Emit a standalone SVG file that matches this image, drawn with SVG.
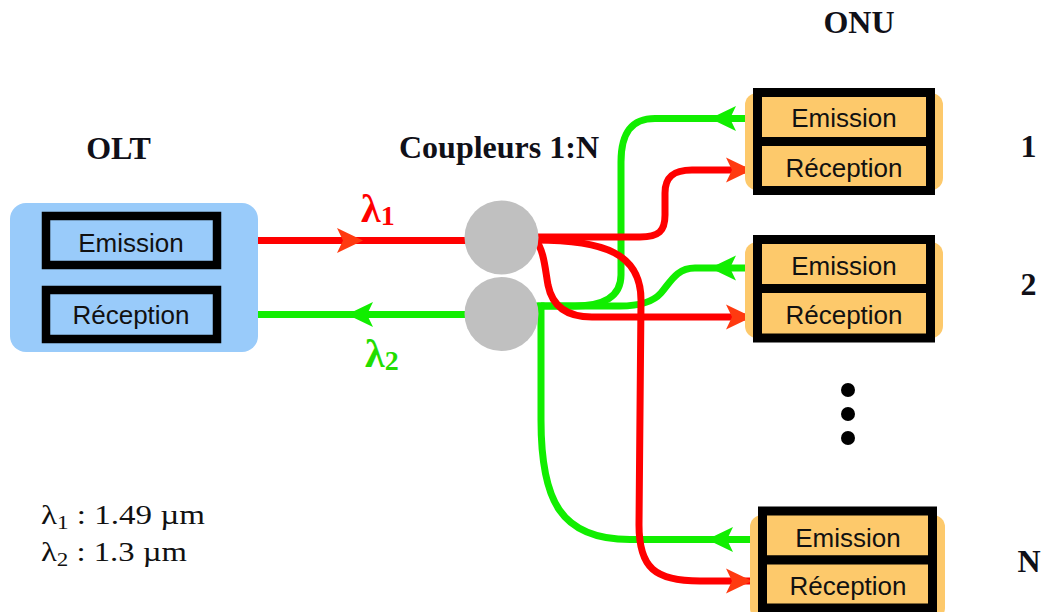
<svg xmlns="http://www.w3.org/2000/svg" width="1043" height="612" viewBox="0 0 1043 612">
<defs>
<path id="arrR" d="M0,0 L-26,-12.5 L-20,0 L-26,12.5 Z"/>
<path id="arrL" d="M0,0 L26,-12.5 L20,0 L26,12.5 Z"/>
</defs>
<style>
.title{font-family:"Liberation Serif","Times New Roman",serif;font-weight:bold;font-size:32px;fill:#101018;text-anchor:middle}
.lbl{font-family:"Liberation Sans",Arial,sans-serif;font-size:26px;fill:#111111;text-anchor:middle}
.lam{font-family:"Liberation Serif","Times New Roman",serif;font-weight:bold}
.legend{font-family:"Liberation Serif","Times New Roman",serif;font-size:27px;fill:#111111}
.box{stroke:#000;stroke-width:9}
.blue{fill:#99cbfa}
.orange{fill:#fdc96b}
.red{fill:none;stroke:#ff0000;stroke-width:7}
.green{fill:none;stroke:#11ee00;stroke-width:7}
.ar{fill:#ff3a10}
.ag{fill:#11ee00}
</style>
<rect width="1043" height="612" fill="#ffffff"/>

<g id="connectors">
<path class="green" d="M753,118.5 H655 C631,118.5 621,133 621,162 V275 C621,297 603,306 575,306 H530"/>
<path class="green" d="M753,268 H695 C676,268 670,283 661,293 C653,302 641,306 620,306 H541"/>
<path class="green" d="M541,302.5 V420 C541,500 560,539.5 630,539.5 H758"/>
<path class="green" d="M221,314.5 H470"/>
<path class="red" d="M221,240.5 H470"/>
<path class="red" d="M530,237 H640 C659,237 665,231 665,215 V193 C665,177 673,170 692,170 H753"/>
<path class="red" d="M535,239 C544,250 545,268 548,285 C552,305 566,317 592,317 H753"/>
<path class="red" d="M535,240 C605,240 641,254 641,300 L639,525 C639,568 655,581 700,581 H758"/>
<use href="#arrR" x="363" y="240.5" class="ar"/>
<use href="#arrL" x="347" y="314.5" class="ag"/>
<use href="#arrL" x="710" y="118.5" class="ag"/>
<use href="#arrL" x="710" y="268" class="ag"/>
<use href="#arrL" x="707" y="539.5" class="ag"/>
<use href="#arrR" x="752" y="170" class="ar"/>
<use href="#arrR" x="752" y="317" class="ar"/>
<use href="#arrR" x="752" y="581" class="ar"/>
</g>

<g id="olt">
<text class="title" x="118.5" y="159">OLT</text>
<rect class="blue" x="10" y="203" width="248" height="149" rx="16"/>
<rect class="box blue" x="46" y="216" width="171" height="49" style="stroke-width:8.5"/>
<text class="lbl" x="131" y="251.5">Emission</text>
<rect class="box blue" x="46" y="290" width="171" height="49" style="stroke-width:8.5"/>
<text class="lbl" x="131" y="324">Réception</text>
</g>

<g id="coupleurs">
<text class="title" x="499" y="157.5">Coupleurs 1:N</text>
<circle cx="501.5" cy="237.5" r="37" fill="#c0c0c0"/>
<circle cx="501.5" cy="314" r="37" fill="#c0c0c0"/>
</g>

<g id="lambda1">
<text class="lam" x="361" y="222" font-size="40" fill="#ff0000">λ<tspan font-size="28" dy="3">1</tspan></text>
</g>
<g id="lambda2">
<text class="lam" x="365" y="367" font-size="40" fill="#22dd00">λ<tspan font-size="28" dy="3">2</tspan></text>
</g>

<text class="title" x="859" y="33">ONU</text>

<g id="onu1">
<rect class="orange" x="745" y="93" width="198" height="97" rx="12"/>
<rect class="box orange" x="757.5" y="92.5" width="173" height="49"/>
<rect class="box orange" x="757.5" y="141.5" width="173" height="49"/>
<text class="lbl" x="844" y="126.5">Emission</text>
<text class="lbl" x="844" y="176.5">Réception</text>
<text class="title" x="1028.5" y="157">1</text>
</g>

<g id="onu2">
<rect class="orange" x="745" y="242" width="198" height="96" rx="12"/>
<rect class="box orange" x="757.5" y="239.5" width="173" height="49"/>
<rect class="box orange" x="757.5" y="288.5" width="173" height="49.5"/>
<text class="lbl" x="844" y="275">Emission</text>
<text class="lbl" x="844" y="323.5">Réception</text>
<text class="title" x="1028.5" y="295">2</text>
</g>

<g id="dots">
<circle cx="848" cy="390" r="7" fill="#000"/>
<circle cx="848" cy="414" r="7" fill="#000"/>
<circle cx="848" cy="438" r="7" fill="#000"/>
</g>

<g id="onuN">
<rect class="orange" x="750" y="515" width="195" height="105" rx="12"/>
<rect class="box orange" x="762.5" y="511" width="170" height="49"/>
<rect class="box orange" x="762.5" y="560" width="170" height="48"/>
<text class="lbl" x="848" y="546.5">Emission</text>
<text class="lbl" x="848" y="595">Réception</text>
<text class="title" x="1029" y="572">N</text>
</g>

<g id="legend">
<text class="legend" x="41" y="524" textLength="164" lengthAdjust="spacingAndGlyphs">λ<tspan font-size="19" dy="5">1</tspan><tspan dy="-5"> : 1.49 µm</tspan></text>
<text class="legend" x="41" y="561" textLength="146" lengthAdjust="spacingAndGlyphs">λ<tspan font-size="19" dy="5">2</tspan><tspan dy="-5"> : 1.3 µm</tspan></text>
</g>
</svg>
